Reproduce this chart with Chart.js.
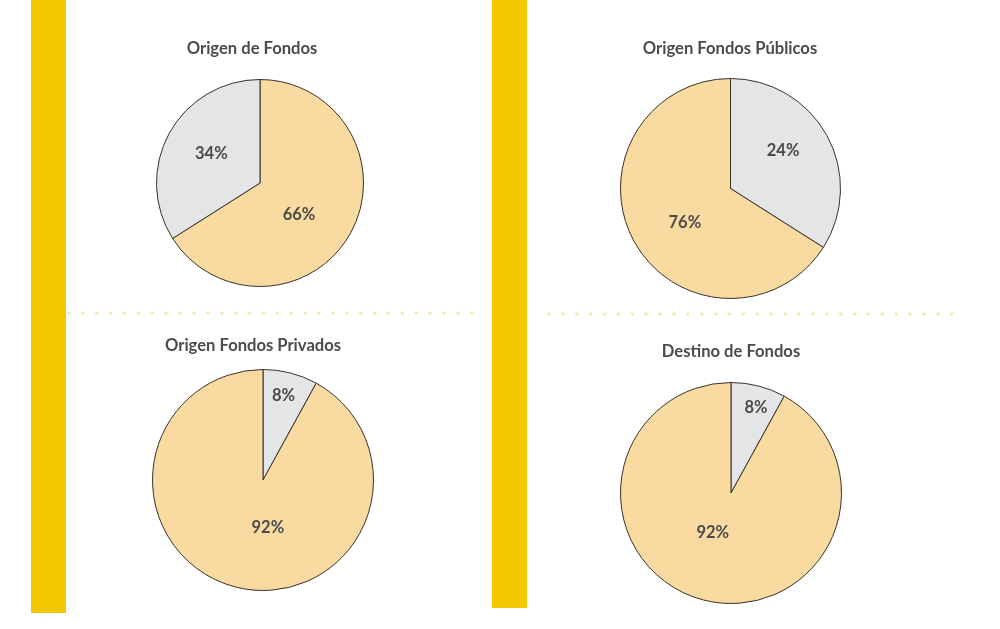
<!DOCTYPE html>
<html><head><meta charset="utf-8">
<script src="https://cdn.jsdelivr.net/npm/chart.js@4/dist/chart.umd.min.js"></script>
<style>
html,body{margin:0;padding:0;background:#fff;width:1000px;height:629px;overflow:hidden;position:relative}
.bar{position:absolute;top:0;width:35px;background:#F2C800}
.dots{position:absolute;height:6px;background-image:radial-gradient(circle,#F4E7A6 1.3px,rgba(255,255,255,0) 1.9px);background-size:13.9px 6px}
canvas{position:absolute;left:0;top:0}
</style></head><body>
<div class="bar" style="left:31px;height:613px"></div>
<div class="bar" style="left:492px;height:608px"></div>
<div class="dots" style="left:62px;top:310px;width:417px"></div>
<div class="dots" style="left:542px;top:311px;width:415px"></div>
<canvas id="c1" width="1000" height="629"></canvas>
<canvas id="c2" width="1000" height="629"></canvas>
<canvas id="c3" width="1000" height="629"></canvas>
<canvas id="c4" width="1000" height="629"></canvas>
<script>
// ---- data ----
const titles = ['Origen de Fondos', 'Origen Fondos Públicos', 'Origen Fondos Privados', 'Destino de Fondos'];
// slice order: clockwise from 12 o'clock
const origenFondosCats = ['Mayoritario', 'Minoritario'];
const origenFondosValues = [66, 34];
const origenFondosLabels = ['66%', '34%'];
const origenPublicosCats = ['Minoritario', 'Mayoritario'];
const origenPublicosValues = [34, 66];      // slice sizes as drawn in the picture
const origenPublicosLabels = ['24%', '76%']; // printed labels
const origenPrivadosCats = ['Minoritario', 'Mayoritario'];
const origenPrivadosValues = [8, 92];
const origenPrivadosLabels = ['8%', '92%'];
const destinoFondosCats = ['Minoritario', 'Mayoritario'];
const destinoFondosValues = [8, 92];
const destinoFondosLabels = ['8%', '92%'];

// ---- styles ----
const PEACH = '#F9DAA0', GREY = '#E4E5E7', EDGE = '#3a3128', TEXT = '#4b4b4b';
const FONT = 'Lato, "Open Sans", sans-serif';

const pieText = {
  id: 'pieText',
  afterDatasetsDraw(chart, args, opts) {
    const ctx = chart.ctx;
    const arc = chart.getDatasetMeta(0).data[0];
    const cx = arc.x, cy = arc.y, r = arc.outerRadius;
    ctx.save();
    ctx.fillStyle = TEXT;
    ctx.textAlign = 'center';
    ctx.textBaseline = 'alphabetic';
    ctx.font = 'bold 16.6px ' + FONT;
    ctx.fillText(opts.title, opts.titleX, opts.titleY);
    ctx.font = 'bold 16.5px ' + FONT;
    opts.labels.forEach((t, i) => {
      const o = opts.offsets[i];
      ctx.fillText(t, cx + o[0] * r, cy + o[1] * r + 6);
    });
    ctx.restore();
  }
};

function makePie(id, cats, values, labels, colors, title, titleX, titleY, pad, offsets) {
  new Chart(document.getElementById(id), {
    type: 'pie',
    data: {
      labels: cats,
      datasets: [{
        data: values,
        backgroundColor: colors,
        borderColor: EDGE,
        borderWidth: 1,
        hoverOffset: 0
      }]
    },
    options: {
      responsive: false,
      animation: false,
      events: [],
      layout: { padding: pad },
      plugins: {
        legend: { display: false },
        tooltip: { enabled: false },
        title: { display: false },
        pieText: { title, titleX, titleY, labels, offsets }
      }
    },
    plugins: [pieText]
  });
}

makePie('c1', origenFondosCats, origenFondosValues, origenFondosLabels, [PEACH, GREY],
  titles[0], 252, 54, { left: 156, top: 79, right: 636, bottom: 342 },
  [[0.377, 0.297], [-0.47, -0.29]]);
makePie('c2', origenPublicosCats, origenPublicosValues, origenPublicosLabels, [GREY, PEACH],
  titles[1], 730, 54, { left: 620, top: 78, right: 159, bottom: 330 },
  [[0.478, -0.352], [-0.415, 0.30]]);
makePie('c3', origenPrivadosCats, origenPrivadosValues, origenPrivadosLabels, [GREY, PEACH],
  titles[2], 253, 351, { left: 152, top: 369, right: 626, bottom: 38 },
  [[0.185, -0.768], [0.044, 0.422]]);
makePie('c4', destinoFondosCats, destinoFondosValues, destinoFondosLabels, [GREY, PEACH],
  titles[3], 731, 357, { left: 620, top: 382, right: 158, bottom: 25 },
  [[0.226, -0.774], [-0.165, 0.35]]);
</script>
</body></html>
